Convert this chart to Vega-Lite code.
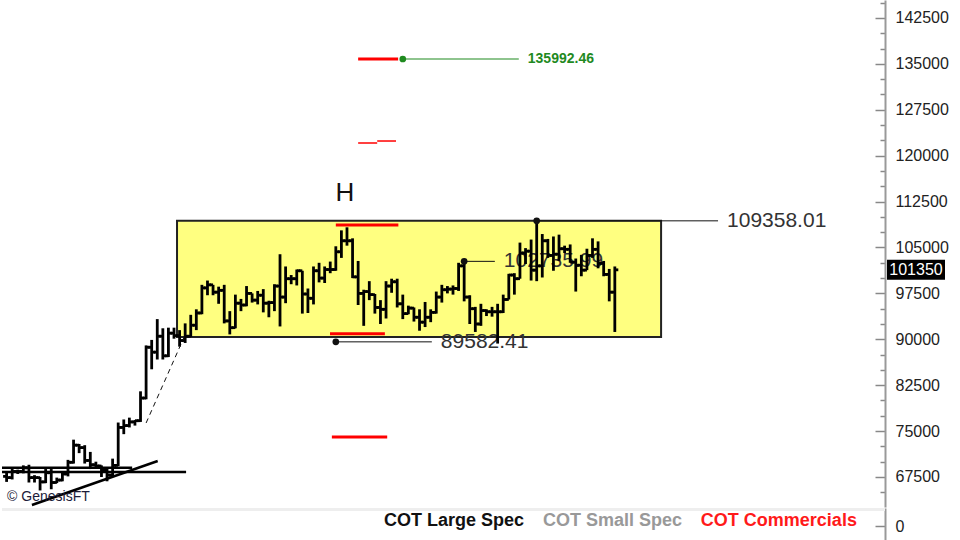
{
"$schema": "https://vega.github.io/schema/vega-lite/v6.json",
"padding": 0,
"autosize": {"type": "pad"},
"spacing": 0,
"background": "white",
"config": {"view": {"stroke": null}, "concat": {"spacing": 0}},
"datasets": {
"ohlc": [
{"date":"2024-10-17","open":67600,"high":68400,"low":66700,"close":67400},
{"date":"2024-10-18","open":67400,"high":68900,"low":67100,"close":68400},
{"date":"2024-10-19","open":68400,"high":68700,"low":68000,"close":68400},
{"date":"2024-10-20","open":68400,"high":69400,"low":68100,"close":69000},
{"date":"2024-10-21","open":69000,"high":69500,"low":66600,"close":67400},
{"date":"2024-10-22","open":67400,"high":67800,"low":66600,"close":67400},
{"date":"2024-10-23","open":67400,"high":67500,"low":65300,"close":66700},
{"date":"2024-10-24","open":66700,"high":68800,"low":66500,"close":68200},
{"date":"2024-10-25","open":68200,"high":68800,"low":65500,"close":66600},
{"date":"2024-10-26","open":66600,"high":67400,"low":66500,"close":67000},
{"date":"2024-10-27","open":67000,"high":68300,"low":66800,"close":68000},
{"date":"2024-10-28","open":68000,"high":70300,"low":67600,"close":69900},
{"date":"2024-10-29","open":69900,"high":73600,"low":69700,"close":72700},
{"date":"2024-10-30","open":72700,"high":72900,"low":71400,"close":72300},
{"date":"2024-10-31","open":72300,"high":72700,"low":69700,"close":70200},
{"date":"2024-11-01","open":70200,"high":71600,"low":68800,"close":69500},
{"date":"2024-11-02","open":69500,"high":70000,"low":69000,"close":69300},
{"date":"2024-11-03","open":69300,"high":69400,"low":67500,"close":68700},
{"date":"2024-11-04","open":68700,"high":69000,"low":66800,"close":67800},
{"date":"2024-11-05","open":67800,"high":70500,"low":67500,"close":69400},
{"date":"2024-11-06","open":69400,"high":76400,"low":69300,"close":75600},
{"date":"2024-11-07","open":75600,"high":76900,"low":74500,"close":75900},
{"date":"2024-11-08","open":75900,"high":77200,"low":75600,"close":76500},
{"date":"2024-11-09","open":76500,"high":76800,"low":75900,"close":76700},
{"date":"2024-11-10","open":76700,"high":81500,"low":76500,"close":80400},
{"date":"2024-11-11","open":80400,"high":89000,"low":80200,"close":88700},
{"date":"2024-11-12","open":88700,"high":89900,"low":85100,"close":87900},
{"date":"2024-11-13","open":87900,"high":93300,"low":86700,"close":90500},
{"date":"2024-11-14","open":90500,"high":91800,"low":86700,"close":87300},
{"date":"2024-11-15","open":87300,"high":91900,"low":87100,"close":91000},
{"date":"2024-11-16","open":91000,"high":91900,"low":90100,"close":90600},
{"date":"2024-11-17","open":90600,"high":91500,"low":88800,"close":89800},
{"date":"2024-11-18","open":89800,"high":92600,"low":89400,"close":90500},
{"date":"2024-11-19","open":90500,"high":94000,"low":90400,"close":92300},
{"date":"2024-11-20","open":92300,"high":94900,"low":91500,"close":94300},
{"date":"2024-11-21","open":94300,"high":98900,"low":94100,"close":98400},
{"date":"2024-11-22","open":98400,"high":99600,"low":97200,"close":98900},
{"date":"2024-11-23","open":98900,"high":98900,"low":97200,"close":97700},
{"date":"2024-11-24","open":97700,"high":98600,"low":95800,"close":98000},
{"date":"2024-11-25","open":98000,"high":98900,"low":92600,"close":93000},
{"date":"2024-11-26","open":93000,"high":94600,"low":90800,"close":91900},
{"date":"2024-11-27","open":91900,"high":97300,"low":91800,"close":95900},
{"date":"2024-11-28","open":95900,"high":96600,"low":94600,"close":95600},
{"date":"2024-11-29","open":95600,"high":98700,"low":95400,"close":97500},
{"date":"2024-11-30","open":97500,"high":97500,"low":96000,"close":96400},
{"date":"2024-12-01","open":96400,"high":97900,"low":95700,"close":97200},
{"date":"2024-12-02","open":97200,"high":98200,"low":94400,"close":95900},
{"date":"2024-12-03","open":95900,"high":96300,"low":93600,"close":96000},
{"date":"2024-12-04","open":96000,"high":99000,"low":94600,"close":98700},
{"date":"2024-12-05","open":98700,"high":103900,"low":92100,"close":96900},
{"date":"2024-12-06","open":96900,"high":101900,"low":95900,"close":99900},
{"date":"2024-12-07","open":99900,"high":100500,"low":99000,"close":99900},
{"date":"2024-12-08","open":99900,"high":101400,"low":98800,"close":101200},
{"date":"2024-12-09","open":101200,"high":101200,"low":94200,"close":97400},
{"date":"2024-12-10","open":97400,"high":98300,"low":94300,"close":96700},
{"date":"2024-12-11","open":96700,"high":101900,"low":95700,"close":101200},
{"date":"2024-12-12","open":101200,"high":102500,"low":99300,"close":100000},
{"date":"2024-12-13","open":100000,"high":101900,"low":99200,"close":101400},
{"date":"2024-12-14","open":101400,"high":102700,"low":100800,"close":101400},
{"date":"2024-12-15","open":101400,"high":105200,"low":101200,"close":104300},
{"date":"2024-12-16","open":104300,"high":107800,"low":103300,"close":106100},
{"date":"2024-12-17","open":106100,"high":108300,"low":105300,"close":106100},
{"date":"2024-12-18","open":106100,"high":106500,"low":100000,"close":100200},
{"date":"2024-12-19","open":100200,"high":102800,"low":95600,"close":97500},
{"date":"2024-12-20","open":97500,"high":98100,"low":92200,"close":97800},
{"date":"2024-12-21","open":97800,"high":99500,"low":96400,"close":97300},
{"date":"2024-12-22","open":97300,"high":97400,"low":94200,"close":95200},
{"date":"2024-12-23","open":95200,"high":96400,"low":92500,"close":94900},
{"date":"2024-12-24","open":94900,"high":99500,"low":93400,"close":98700},
{"date":"2024-12-25","open":98700,"high":99900,"low":97600,"close":99400},
{"date":"2024-12-26","open":99400,"high":99900,"low":95200,"close":95800},
{"date":"2024-12-27","open":95800,"high":97300,"low":93300,"close":94200},
{"date":"2024-12-28","open":94200,"high":95500,"low":94100,"close":95100},
{"date":"2024-12-29","open":95100,"high":95200,"low":92900,"close":93600},
{"date":"2024-12-30","open":93600,"high":94900,"low":91400,"close":92800},
{"date":"2024-12-31","open":92800,"high":96100,"low":92000,"close":93600},
{"date":"2025-01-01","open":93600,"high":94900,"low":92800,"close":94400},
{"date":"2025-01-02","open":94400,"high":97800,"low":94200,"close":96900},
{"date":"2025-01-03","open":96900,"high":98900,"low":96000,"close":98100},
{"date":"2025-01-04","open":98100,"high":98700,"low":97500,"close":98200},
{"date":"2025-01-05","open":98200,"high":98800,"low":97300,"close":98300},
{"date":"2025-01-06","open":98300,"high":102500,"low":97900,"close":102000},
{"date":"2025-01-07","open":102000,"high":102736,"low":96200,"close":96900},
{"date":"2025-01-08","open":96900,"high":97200,"low":92500,"close":95000},
{"date":"2025-01-09","open":95000,"high":95300,"low":91200,"close":92500},
{"date":"2025-01-10","open":92500,"high":95800,"low":92200,"close":94700},
{"date":"2025-01-11","open":94700,"high":94900,"low":93800,"close":94500},
{"date":"2025-01-12","open":94500,"high":95300,"low":93700,"close":94500},
{"date":"2025-01-13","open":94500,"high":95800,"low":89300,"close":94500},
{"date":"2025-01-14","open":94500,"high":97300,"low":94300,"close":96500},
{"date":"2025-01-15","open":96500,"high":100700,"low":96500,"close":100500},
{"date":"2025-01-16","open":100500,"high":100800,"low":97300,"close":99900},
{"date":"2025-01-17","open":99900,"high":105800,"low":99900,"close":104100},
{"date":"2025-01-18","open":104100,"high":104900,"low":102300,"close":104400},
{"date":"2025-01-19","open":104400,"high":106300,"low":99600,"close":101300},
{"date":"2025-01-20","open":101300,"high":109358,"low":99500,"close":102000},
{"date":"2025-01-21","open":102000,"high":107200,"low":100100,"close":106100},
{"date":"2025-01-22","open":106100,"high":106400,"low":103300,"close":103700},
{"date":"2025-01-23","open":103700,"high":106800,"low":101200,"close":103900},
{"date":"2025-01-24","open":103900,"high":107100,"low":102800,"close":104800},
{"date":"2025-01-25","open":104800,"high":105300,"low":104100,"close":104700},
{"date":"2025-01-26","open":104700,"high":105500,"low":102500,"close":102600},
{"date":"2025-01-27","open":102600,"high":103200,"low":97800,"close":102100},
{"date":"2025-01-28","open":102100,"high":103800,"low":100300,"close":101300},
{"date":"2025-01-29","open":101300,"high":104800,"low":101300,"close":103700},
{"date":"2025-01-30","open":103700,"high":106500,"low":103300,"close":104700},
{"date":"2025-01-31","open":104700,"high":106000,"low":101600,"close":102400},
{"date":"2025-02-01","open":102400,"high":102800,"low":100300,"close":100600},
{"date":"2025-02-02","open":100600,"high":101500,"low":96200,"close":97700},
{"date":"2025-02-03","open":97700,"high":101900,"low":91200,"close":101350}
],
"box": [{"start":"2024-11-16T13:00:00Z","end":"2025-02-11T07:00:00Z","low":90376,"high":109358.01}],
"blackLevels": [
{"start":"2025-01-20T00:00:00Z","end":"2025-02-21T12:00:00Z","value":109358.01,"label":"109358.01"},
{"start":"2025-01-07T00:00:00Z","end":"2025-01-12T12:00:00Z","value":102735.99,"label":"102735.99"},
{"start":"2024-12-15T00:00:00Z","end":"2025-01-01T05:00:00Z","value":89582.41,"label":"89582.41"}
],
"redThick": [
{"start":"2024-12-19T00:00:00Z","end":"2024-12-26T04:00:00Z","value":135800},
{"start":"2024-12-15T00:00:00Z","end":"2024-12-26T05:00:00Z","value":108680},
{"start":"2024-12-13T23:00:00Z","end":"2024-12-23T19:00:00Z","value":90915},
{"start":"2024-12-14T07:00:00Z","end":"2024-12-24T05:00:00Z","value":74036}
],
"redThin": [
{"start":"2024-12-19T00:00:00Z","end":"2024-12-22T10:00:00Z","value":122075},
{"start":"2024-12-22T10:00:00Z","end":"2024-12-25T19:00:00Z","value":122400}
],
"green": [{"start":"2024-12-27T00:00:00Z","end":"2025-01-16T19:00:00Z","value":135800,"label":"135992.46"}],
"marker": [{"date":"2024-12-16T15:30:00Z","value":113905,"label":"H"}],
"dash": [{"date":"2024-11-11T00:00:00Z","value":76324},{"date":"2024-11-17T20:00:00Z","value":90400}],
"flat": [
{"start":"2024-10-16T04:13:00Z","end":"2024-11-18T04:00:00Z","value":68317},
{"start":"2024-10-16T04:13:00Z","end":"2024-11-08T12:00:00Z","value":69000}
],
"trend": [{"start":"2024-10-21T13:00:00Z","end":"2024-11-13T02:00:00Z","from":62925,"to":70114}],
"credit": [{"date":"2024-10-17T02:00:00Z","value":64232,"label":"© GenesisFT"}],
"last": [{"date":"2025-03-23T10:05:00Z","value":101350,"label":"101350"}],
"cot": [
{"series":"COT Large Spec","start":"2024-12-23T15:00:00Z"},
{"series":"COT Small Spec","start":"2025-01-21T03:00:00Z"},
{"series":"COT Commercials","start":"2025-02-18T10:00:00Z"}
]
},
"vconcat": [
{
"width": 883,
"height": 507,
"encoding": {
"y": {"type":"quantitative","title":null,"scale":{"domain":[62598,145441],"nice":false,"zero":false},
"axis":{"orient":"right","title":null,"grid":false,
"values":[65000,67500,70000,72500,75000,77500,80000,82500,85000,87500,90000,92500,95000,97500,100000,102500,105000,107500,110000,112500,115000,117500,120000,122500,125000,127500,130000,132500,135000,137500,140000,142500,145000],
"format":"d","labelExpr":"datum.value % 7500 === 0 ? datum.label : ''",
"tickSize":{"condition":{"test":"datum.value % 7500 === 0","value":-10},"value":-5},
"labelFontSize":{"condition":{"test":"datum.value % 7500 === 0","value":16},"value":0},
"tickColor":"#888888","tickWidth":1.5,"domainColor":"#999999","domainWidth":2,
"labelPadding":20,"labelFont":"Liberation Sans","labelColor":"#222222",
"labelOverlap":false,"labelBound":false,"labelFlush":false}}
},
"layer": [
{"data":{"name":"box"},"mark":{"type":"rect","fill":"#ffff80","stroke":"#222222","strokeWidth":2},
"encoding":{
"x":{"field":"start","type":"temporal","scale":{"domain":[{"year":2024,"month":10,"date":16,"hours":4,"minutes":13,"utc":true},{"year":2025,"month":3,"date":23,"hours":10,"minutes":5,"utc":true}]},"axis":null},
"x2":{"field":"end"},
"y":{"field":"low"},
"y2":{"field":"high"}}},
{"data":{"name":"blackLevels"},"mark":{"type":"text","align":"left","baseline":"middle","dx":9,"font":"Liberation Sans","fontSize":21,"color":"#333333"},
"encoding":{"x":{"field":"end","type":"temporal","axis":null},"y":{"field":"value"},"text":{"field":"label"}}},
{"data":{"name":"blackLevels"},"mark":{"type":"rule","color":"#111111","strokeWidth":1},
"encoding":{"x":{"field":"start","type":"temporal","axis":null},"x2":{"field":"end"},"y":{"field":"value"}}},
{"data":{"name":"redThick"},"mark":{"type":"rule","color":"#ff0000","strokeWidth":3},
"encoding":{"x":{"field":"start","type":"temporal","axis":null},"x2":{"field":"end"},"y":{"field":"value"}}},
{"data":{"name":"redThin"},"mark":{"type":"rule","color":"#ff0000","strokeWidth":1.5},
"encoding":{"x":{"field":"start","type":"temporal","axis":null},"x2":{"field":"end"},"y":{"field":"value"}}},
{"data":{"name":"ohlc"},"mark":{"type":"rule","color":"#000000","strokeWidth":2.8},
"encoding":{"x":{"field":"date","type":"temporal","axis":null},"y":{"field":"low"},"y2":{"field":"high"}}},
{"data":{"name":"ohlc"},"mark":{"type":"rule","color":"#000000","strokeWidth":2.8,"xOffset":-3.5},
"encoding":{"x":{"field":"date","type":"temporal","axis":null},"x2":{"field":"date"},"y":{"field":"open"}}},
{"data":{"name":"ohlc"},"mark":{"type":"rule","color":"#000000","strokeWidth":2.8,"x2Offset":3.5},
"encoding":{"x":{"field":"date","type":"temporal","axis":null},"x2":{"field":"date"},"y":{"field":"close"}}},
{"data":{"name":"blackLevels"},"mark":{"type":"point","filled":true,"color":"#111111","size":45,"opacity":1},
"encoding":{"x":{"field":"start","type":"temporal","axis":null},"y":{"field":"value"}}},
{"data":{"name":"green"},"mark":{"type":"rule","color":"#1f8a1f","strokeWidth":1.2},
"encoding":{"x":{"field":"start","type":"temporal","axis":null},"x2":{"field":"end"},"y":{"field":"value"}}},
{"data":{"name":"green"},"mark":{"type":"point","filled":true,"color":"#1f8a1f","size":45,"opacity":1},
"encoding":{"x":{"field":"start","type":"temporal","axis":null},"y":{"field":"value"}}},
{"data":{"name":"green"},"mark":{"type":"text","align":"left","baseline":"middle","dx":9,"font":"Liberation Sans","fontSize":14,"fontWeight":"bold","color":"#1f8a1f"},
"encoding":{"x":{"field":"end","type":"temporal","axis":null},"y":{"field":"value"},"text":{"field":"label"}}},
{"data":{"name":"marker"},"mark":{"type":"text","align":"center","baseline":"middle","font":"Liberation Sans","fontSize":26,"color":"#111111"},
"encoding":{"x":{"field":"date","type":"temporal","axis":null},"y":{"field":"value"},"text":{"field":"label"}}},
{"data":{"name":"dash"},"mark":{"type":"line","color":"#111111","strokeWidth":1,"strokeDash":[5,4]},
"encoding":{"x":{"field":"date","type":"temporal","axis":null},"y":{"field":"value"}}},
{"data":{"name":"flat"},"mark":{"type":"rule","color":"#000000","strokeWidth":2.5},
"encoding":{"x":{"field":"start","type":"temporal","axis":null},"x2":{"field":"end"},"y":{"field":"value"}}},
{"data":{"name":"trend"},"mark":{"type":"rule","color":"#000000","strokeWidth":2.5},
"encoding":{"x":{"field":"start","type":"temporal","axis":null},"x2":{"field":"end"},"y":{"field":"from"},"y2":{"field":"to"}}},
{"data":{"name":"credit"},"mark":{"type":"text","align":"left","baseline":"middle","font":"Liberation Sans","fontSize":14,"color":"#1c1c3a"},
"encoding":{"x":{"field":"date","type":"temporal","axis":null},"y":{"field":"value"},"text":{"field":"label"}}},
{"data":{"name":"last"},"mark":{"type":"rect","color":"#000000","xOffset":2,"x2Offset":60,"yOffset":-10,"y2Offset":10},
"encoding":{"x":{"field":"date","type":"temporal","axis":null},"x2":{"field":"date"},"y":{"field":"value"},"y2":{"field":"value"}}},
{"data":{"name":"last"},"mark":{"type":"text","align":"center","baseline":"middle","dx":31,"font":"Liberation Sans","fontSize":16,"color":"#ffffff"},
"encoding":{"x":{"field":"date","type":"temporal","axis":null},"y":{"field":"value"},"text":{"field":"label"}}}
]
},
{
"width": 883,
"height": 33,
"layer": [
{"data":{"values":[{}]},"mark":{"type":"rule","color":"#eeeeee","strokeWidth":3},
"encoding":{"y":{"datum":16.5,"type":"quantitative","scale":{"domain":[-15,18],"nice":false,"zero":false},
"axis":{"orient":"right","title":null,"grid":false,"values":[0],"format":"d","tickSize":-10,"tickColor":"#888888","tickWidth":1.5,"domainColor":"#999999","domainWidth":2,"labelPadding":20,"labelFont":"Liberation Sans","labelFontSize":16,"labelColor":"#222222"}}}},
{"data":{"name":"cot"},"mark":{"type":"text","align":"left","baseline":"middle","font":"Liberation Sans","fontSize":18,"fontWeight":"bold"},
"encoding":{
"x":{"field":"start","type":"temporal","scale":{"domain":[{"year":2024,"month":10,"date":16,"hours":4,"minutes":13,"utc":true},{"year":2025,"month":3,"date":23,"hours":10,"minutes":5,"utc":true}]},"axis":null},
"y":{"datum":5,"type":"quantitative"},
"text":{"field":"series"},
"color":{"field":"series","type":"nominal","scale":{"domain":["COT Large Spec","COT Small Spec","COT Commercials"],"range":["#111111","#999999","#ff1a1a"]},"legend":null}}}
]
}
]
}
